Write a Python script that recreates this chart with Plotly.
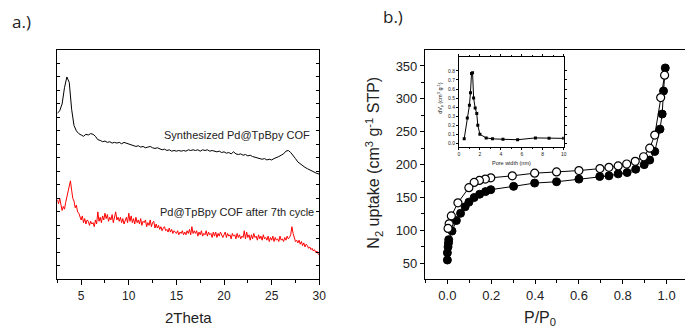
import numpy as np
import plotly.graph_objects as go

# ---------------- data: panel a (PXRD, arbitrary units) ----------------
theta_start, theta_end = 2.5, 30.0
synth_counts = [
    12.3, 12.5,
    13.0, 14.2, 15.0, 14.6,
    12.6, 11.4, 11.0, 10.8,
    10.7, 10.6, 10.75, 10.7,
    10.8, 10.75, 10.6, 10.35,
    10.3, 10.2, 10.25, 10.15,
    10.2, 10.1, 10.15, 10.1,
    10.15, 10.05, 10.15, 10.1,
    10.05, 10.0, 9.95, 9.85,
    9.9, 9.8, 9.85, 9.75,
    9.8, 9.85, 9.75, 9.7,
    9.75, 9.65, 9.6, 9.65,
    9.55, 9.6, 9.5, 9.55,
    9.5, 9.55, 9.5, 9.55,
    9.5, 9.6, 9.55, 9.6,
    9.55, 9.6, 9.5, 9.6,
    9.55, 9.6, 9.5, 9.55,
    9.5, 9.45, 9.5, 9.4,
    9.45, 9.35, 9.4, 9.3,
    9.45, 9.3, 9.25, 9.3,
    9.2, 9.25, 9.15, 9.2,
    9.1, 9.05, 9.0, 8.95,
    8.9, 8.95, 8.85, 8.9,
    8.85, 8.95, 9.0, 9.1,
    9.2, 9.3, 9.5, 9.55,
    9.4, 9.2, 8.95, 8.7,
    8.55, 8.4, 8.3, 8.2,
    8.1, 8.0, 7.95, 7.85,
    7.8,
]
cycled_counts = [
    5.9, 5.6, 6.0, 5.5,
    5.1, 5.4, 5.2, 5.7, 6.1, 6.5, 6.9, 7.3,
    6.6, 6.0, 5.8, 5.3, 5.5, 5.0, 4.9, 4.6,
    4.4, 4.7, 4.2, 4.5, 4.1, 4.4, 4.3, 4.0,
    4.3, 4.1, 4.2, 3.9, 4.4, 4.1, 5.0, 4.3,
    4.6, 4.2, 4.7, 4.4, 4.9, 4.5, 4.8, 4.3,
    4.6, 4.4, 4.8, 4.2, 4.6, 5.0, 4.4, 4.6,
    4.3, 4.6, 4.2, 4.5, 4.1, 4.4, 4.6, 4.2,
    4.9, 4.3, 4.7, 4.2, 4.5, 4.1, 4.6, 4.2,
    4.4, 4.1, 4.5, 4.0, 4.3, 4.2, 4.4, 3.9,
    4.2, 4.0, 4.4, 3.9, 4.2, 4.3, 3.8, 4.1,
    3.8, 4.0, 3.7, 3.9, 3.6, 3.8, 3.9, 3.6,
    3.7, 3.5, 3.8, 3.5, 3.7, 3.4, 3.6, 3.5,
    3.4, 3.6, 3.3, 3.5, 3.4, 3.6, 3.3, 3.5,
    3.3, 3.6, 3.4, 3.7, 3.3, 3.9, 3.4, 3.6,
    3.4, 3.6, 3.2, 3.5, 3.3, 3.6, 3.2, 3.4,
    3.3, 3.6, 3.2, 3.5, 3.3, 3.4, 3.1, 3.5,
    3.2, 3.5, 3.1, 3.4, 3.2, 3.5, 3.3, 3.1,
    3.3, 3.5, 3.1, 3.4, 3.2, 3.3, 3.0, 3.4,
    3.2, 3.3, 3.0, 3.4, 3.1, 3.3, 3.0, 3.2,
    3.1, 3.6, 3.0, 3.5, 3.1, 3.3, 2.9, 3.3,
    3.0, 3.4, 3.1, 3.2, 2.9, 3.3, 3.0, 3.2,
    2.9, 3.3, 3.0, 3.1, 2.9, 3.2, 2.8, 3.1,
    2.9, 3.2, 2.8, 3.1, 2.9, 3.0, 2.8, 3.2,
    2.9, 3.0, 2.8, 3.1, 2.9, 3.2, 3.0, 3.1,
    3.3, 3.9, 3.4, 3.0, 2.8, 2.9, 2.7, 2.9,
    2.6, 2.8, 2.5, 2.7, 2.4, 2.6, 2.5, 2.3,
    2.4, 2.2, 2.3, 2.1, 2.2, 2.0, 2.1, 1.9,
    1.8,
]
theta_synth = np.linspace(theta_start, theta_end, len(synth_counts))
theta_cycled = np.linspace(theta_start, theta_end, len(cycled_counts))

# ---------------- data: panel b (N2 isotherm) ----------------
ads_p = [0.0, 0.0, 0.003, 0.005, 0.006, 0.021, 0.041, 0.06, 0.081, 0.098, 0.122, 0.147,
         0.174, 0.198, 0.302, 0.398, 0.498, 0.6, 0.695, 0.737, 0.779, 0.82, 0.859, 0.898,
         0.923, 0.946, 0.97, 0.98, 0.986, 0.994]
ads_v = [55, 66, 75, 81, 86, 99, 115, 126, 136, 143, 150, 155,
         159, 162, 167, 172, 174, 178, 182, 183, 186, 188, 193, 200,
         207, 220, 254, 277, 312, 347]
des_p = [0.991, 0.973, 0.946, 0.923, 0.895, 0.857, 0.818, 0.779, 0.737, 0.696, 0.6, 0.498,
         0.398, 0.296, 0.198, 0.173, 0.146, 0.122, 0.098, 0.048, 0.018, 0.008, 0.003]
des_v = [336, 302, 245, 225, 212, 205, 201, 198, 196, 194, 191, 189,
         187, 183, 180, 178, 176, 173, 165, 142, 122, 110, 103]

# inset: pore size distribution
pore_w = [0.5, 0.8, 1.0, 1.1, 1.2, 1.3, 1.4, 1.55, 1.7, 1.8, 2.0, 2.6, 3.2, 4.2, 5.6, 7.3, 8.6, 10.0]
pore_dv = [0.05, 0.28, 0.42, 0.56, 0.77, 0.78, 0.50, 0.39, 0.33, 0.20, 0.10, 0.06, 0.05, 0.045,
           0.04, 0.06, 0.055, 0.055]

W, H = 692, 329
def px(x):
    return x / W
def py(y):
    return 1 - y / H

FONT = "Liberation Sans, Arial, sans-serif"
TXT = "#222222"

fig = go.Figure()
fig.add_trace(go.Scatter(x=theta_synth, y=synth_counts, mode="lines",
                         line=dict(color="black", width=1), xaxis="x", yaxis="y", showlegend=False))
fig.add_trace(go.Scatter(x=theta_cycled, y=cycled_counts, mode="lines",
                         line=dict(color="#ff0000", width=1), xaxis="x", yaxis="y", showlegend=False))

fig.add_trace(go.Scatter(x=ads_p, y=ads_v, mode="lines+markers",
                         line=dict(color="black", width=1),
                         marker=dict(symbol="circle", size=8, color="black", line=dict(color="black", width=1)),
                         xaxis="x2", yaxis="y2", showlegend=False))
fig.add_trace(go.Scatter(x=des_p, y=des_v, mode="lines+markers",
                         line=dict(color="black", width=1),
                         marker=dict(symbol="circle", size=8, color="white", line=dict(color="black", width=1.2)),
                         xaxis="x2", yaxis="y2", showlegend=False))

fig.add_trace(go.Scatter(x=pore_w, y=pore_dv, mode="lines+markers",
                         line=dict(color="black", width=1),
                         marker=dict(symbol="square", size=3, color="black"),
                         xaxis="x3", yaxis="y3", showlegend=False))

tickfont = dict(family=FONT, size=12, color=TXT)
fig.update_layout(
    width=W, height=H, autosize=False,
    margin=dict(l=0, r=0, t=0, b=0),
    paper_bgcolor="white", plot_bgcolor="white",
    xaxis=dict(domain=[px(57), px(322)], anchor="y", range=[2.5, 30],
               tickvals=[5, 10, 15, 20, 25, 30], ticks="outside", ticklen=5, tickcolor="black",
               minor=dict(dtick=2.5, tick0=0, ticks="outside", ticklen=3, tickcolor="black"),
               showline=True, linecolor="black", linewidth=1.2, mirror=True,
               showgrid=False, zeroline=False, tickfont=tickfont),
    yaxis=dict(domain=[py(279.3), py(50)], anchor="x", range=[0, 17],
               dtick=1, ticks="inside", ticklen=3, tickcolor="black", showticklabels=False,
               showline=True, linecolor="black", linewidth=1.2, mirror="ticks",
               showgrid=False, zeroline=False),
    xaxis2=dict(domain=[px(429), 1.0], anchor="y2", range=[-0.102, 1.084],
                tickvals=[0, 0.2, 0.4, 0.6, 0.8, 1.0], ticktext=["0.0", "0.2", "0.4", "0.6", "0.8", "1.0"],
                ticks="outside", ticklen=4, tickcolor="black",
                minor=dict(dtick=0.1, tick0=0, ticks="outside", ticklen=3, tickcolor="black"),
                showline=True, linecolor="black", linewidth=1.2, mirror=True,
                showgrid=False, zeroline=False, tickfont=dict(family=FONT, size=13, color=TXT)),
    yaxis2=dict(domain=[py(279.3), py(50)], anchor="x2", range=[25.7, 374.3],
                tickvals=[50, 100, 150, 200, 250, 300, 350],
                ticks="outside", ticklen=4, tickcolor="black",
                minor=dict(dtick=25, tick0=0, ticks="outside", ticklen=3, tickcolor="black"),
                showline=True, linecolor="black", linewidth=1.2, mirror=False,
                showgrid=False, zeroline=False, tickfont=dict(family=FONT, size=13, color=TXT)),
    xaxis3=dict(domain=[px(463.3), px(569.3)], anchor="y3", range=[0, 10],
                dtick=2, ticks="outside", ticklen=2, tickcolor="black",
                minor=dict(dtick=1, ticks="outside", ticklen=1.5, tickcolor="black"),
                showline=True, linecolor="black", linewidth=1, mirror="ticks",
                showgrid=False, zeroline=False, tickfont=dict(family=FONT, size=5, color=TXT)),
    yaxis3=dict(domain=[py(146.7), py(57.3)], anchor="x3", range=[-0.037, 0.95],
                tickvals=[0, 0.1, 0.2, 0.3, 0.4, 0.5, 0.6, 0.7, 0.8],
                ticktext=["0.0", "0.1", "0.2", "0.3", "0.4", "0.5", "0.6", "0.7", "0.8"],
                ticks="outside", ticklen=2, tickcolor="black",
                showline=True, linecolor="black", linewidth=1, mirror="ticks",
                showgrid=False, zeroline=False, tickfont=dict(family=FONT, size=5, color=TXT)),
)

def ann(text, x, y, size, angle=0, xanchor="center", family=FONT):
    fig.add_annotation(text=text, x=x, y=y, xref="paper", yref="paper", showarrow=False,
                       xanchor=xanchor, yanchor="middle", textangle=angle,
                       font=dict(family=family, size=size, color=TXT))

ann("a.)", px(21), py(22), 17, family="Open Sans, sans-serif")
ann("b.)", px(397), py(17), 17, family="Open Sans, sans-serif")
ann("2Theta", px(190), py(317), 15)
ann("P/P<sub>0</sub>", px(545), py(318), 16)
ann("N<sub>2</sub> uptake (cm<sup>3</sup> g<sup>-1</sup> STP)", px(377), py(163), 16, angle=-90)
ann("Synthesized Pd@TpBpy COF", px(315), py(135), 11, xanchor="right")
ann("Pd@TpBpy COF after 7th cycle", px(319), py(212), 11, xanchor="right")
ann("Pore width (nm)", px(516), py(163), 5.5)
ann("dV<sub>p</sub> (cm<sup>3</sup> g<sup>-1</sup>)", px(444), py(98), 5.5, angle=-90)

fig.write_html("out.html", config={"displayModeBar": False},
               post_script="document.body.style.margin='0px';")
